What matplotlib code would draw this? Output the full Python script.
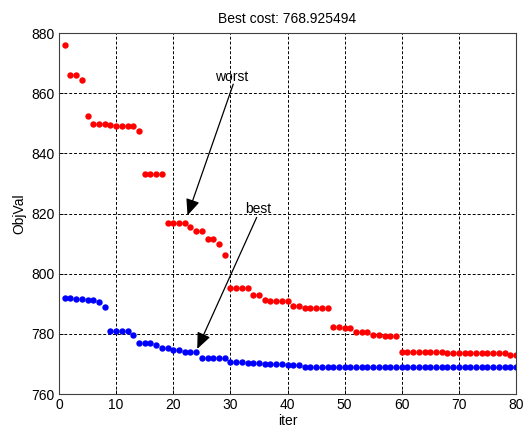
import matplotlib
matplotlib.use('Agg')
import matplotlib.pyplot as plt

# values (one point per iteration)
iters = list(range(1, 81))

worst = ([876.0, 866.2, 866.2, 864.3, 852.4, 849.7, 849.7, 849.7, 849.3, 849.0,
          849.0, 849.0, 849.0, 847.5]
         + [833.1] * 4 + [816.8] * 4
         + [815.4, 814.1, 814.1, 811.6, 811.6, 809.8, 806.3]
         + [795.1] * 4 + [792.8] * 2 + [791.3] + [790.9] * 4 + [789.3] * 2 + [788.5] * 5
         + [782.2] * 2 + [781.8] * 2 + [780.6] * 3 + [779.6] * 2 + [779.2] * 3
         + [774.1] * 8 + [773.7] * 11 + [773.0, 772.9])

best = ([791.8, 791.8, 791.5, 791.5, 791.1, 791.1, 790.7, 789.0]
        + [781.0] * 4 + [779.6] + [776.8] * 3 + [776.3] + [775.3] * 2 + [774.7] * 2
        + [774.0] * 3 + [771.9] * 5 + [770.5] * 3 + [770.3] * 3 + [769.9] * 4
        + [769.6] * 3 + [769.1] * 3 + [768.925494] * 35)

best_cost = 768.925494

plt.rcParams['font.family'] = ['Liberation Sans', 'DejaVu Sans']
plt.rcParams['font.size'] = 10

fig = plt.figure(figsize=(5.25, 4.3), dpi=100)
ax = fig.add_axes([0.1124, 0.0837, 0.8705, 0.8395])

ax.plot(iters, worst, 'o', color='#ff0000', markersize=4.6, markeredgewidth=0)
ax.plot(iters, best, 'o', color='#0000ff', markersize=4.6, markeredgewidth=0)

ax.set_xlim(0, 80)
ax.set_ylim(760, 880)
ax.set_xticks(range(0, 81, 10))
ax.set_yticks(range(760, 881, 20))
ax.grid(True, color='k', linestyle=(0, (3, 2)), linewidth=0.7)
ax.tick_params(direction='in', length=3, width=0.7, pad=3)
for s in ax.spines.values():
    s.set_linewidth(0.8)
    s.set_color('#404040')

ax.set_title('Best cost: %.6f' % best_cost, fontsize=10, pad=7)
ax.set_xlabel('iter', labelpad=1)
ax.set_ylabel('ObjVal', labelpad=4)

# annotations with arrows
arrow = dict(arrowstyle='-|>,head_length=0.7,head_width=0.3', color='k',
             lw=0.9, mutation_scale=14, shrinkA=0, shrinkB=0)
ax.text(30.3, 865.4, 'worst', ha='center', va='center')
ax.annotate('', xy=(22.5, 819.4), xytext=(30.5, 863.0), arrowprops=arrow)
ax.text(34.9, 821.6, 'best', ha='center', va='center')
ax.annotate('', xy=(24.2, 775.0), xytext=(34.6, 818.7), arrowprops=arrow)

fig.savefig('out.png', dpi=100)
